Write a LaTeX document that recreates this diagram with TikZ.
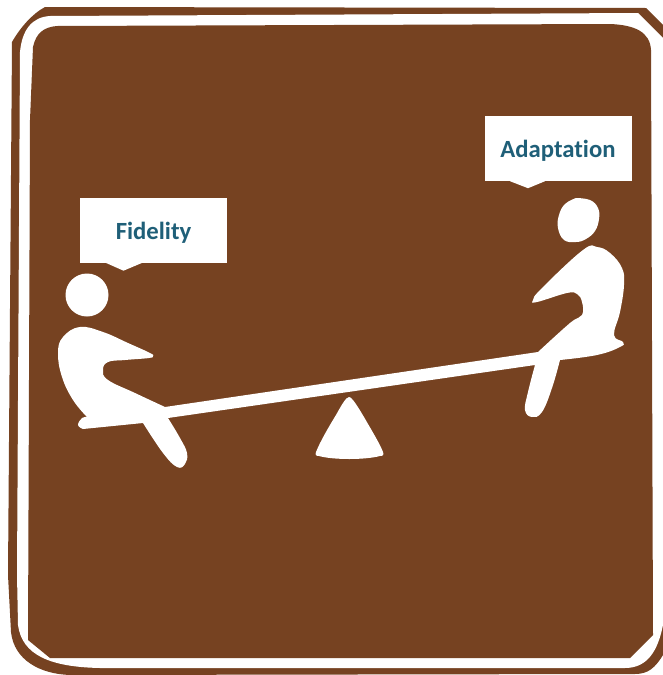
\documentclass[tikz,border=0pt]{standalone}
\usepackage{xcolor}
\usepackage{fontspec}
\setsansfont{Carlito}[Ligatures=CommonOff]
\definecolor{signbrown}{HTML}{764221}
\definecolor{labelteal}{HTML}{1F5F78}

\begin{document}
\begin{tikzpicture}[x=1pt,y=-1pt,
  signshape/.style={fill=white},
  speechbox/.style={fill=white, inner sep=0pt, minimum width=147pt, minimum height=65pt,
    text=labelteal, font=\sffamily\bfseries\fontsize{24.7}{26}\selectfont},
  curve/.style={smooth, tension=0.7}]

\useasboundingbox (0,0) rectangle (663,675);
\fill[white] (0,0) rectangle (663,675);

\fill[signbrown] (12,42) .. controls (20,28) and (32,14) .. (45,7) -- (646,8) -- (663,25) -- (663,655)
  .. controls (655,668) and (648,674) .. (635,674) -- (70,675)
  .. controls (40,674) and (14,660) .. (11,632) -- (8,575) -- cycle;

\fill[white] (20,52) .. controls (22,30) and (32,17) .. (50,16) -- (638,13) -- (663,38) -- (663,625)
  .. controls (658,650) and (648,668) .. (625,668) -- (100,668)
  .. controls (50,667) and (22,655) .. (18,625) -- (17,575) -- cycle;

\fill[signbrown] (33,47) .. controls (36,33) and (44,27) .. (57,26) -- (610,24)
  .. controls (635,25) and (650,32) .. (651,50) -- (653,635) -- (630,658) -- (50,658)
  -- (28,640) -- (30,120) -- cycle;

\node[speechbox] (fidelity) at (153.5,230) {\raisebox{-9pt}[0pt][0pt]{Fidelity}};
\fill[white] ([xshift=-48pt]fidelity.south) -- ([xshift=-30pt,yshift=-8pt]fidelity.south) -- ([xshift=-11pt]fidelity.south) -- cycle;

\node[speechbox] (adaptation) at (558,148.5) {\raisebox{-9pt}[0pt][0pt]{Adaptation}};
\fill[white] ([xshift=-48pt]adaptation.south) -- ([xshift=-30pt,yshift=-7pt]adaptation.south) -- ([xshift=-13pt]adaptation.south) -- cycle;

\fill[signshape] (87,295) circle (21.5);

\fill[signshape] plot[curve] coordinates {(576,198) (590,200) (598,208) (599,219) (595,231) (586,239) (576,242) (564,240) (558,228) (559,215) (565,204) (576,198)} -- cycle;

\fill[signshape]
  plot[curve] coordinates {(87,417) (73,400) (62,377) (58,353) (63,337) (80,327) (103,332) (128,343) (150,353) (153,356) (149,358) (125,360) (108,362) (103,370) (108,380) (135,393) (165,407)}
  -- (538,352)
  -- plot[curve] coordinates {(538,352) (570,323) (582,315) (582,302) (577,294) (567,293) (537,302) (533,300) (542,288) (583,250) (597,247) (610,253) (622,268) (624,285) (620,312) (614,335) (623,342) (620,347) (597,355) (560,360)}
  -- plot[curve] coordinates {(560,360) (552,388) (542,412) (532,417) (525,410) (528,392) (535,365)}
  -- (168,418)
  -- plot[curve] coordinates {(168,418) (180,438) (187,453) (185,464) (177,467) (163,453) (143,423)}
  -- (83,429)
  -- plot[curve] coordinates {(83,429) (78,425) (82,418) (87,417)}
  -- cycle;

\fill[signshape] (349,397) .. controls (352,397) and (358,407) .. (364,417) .. controls (372,431) and (380,444) .. (383,452)
  .. controls (384,455) and (383,456) .. (380,456) .. controls (365,460) and (333,460) .. (319,456)
  .. controls (316,456) and (315,455) .. (316,452) .. controls (320,442) and (328,428) .. (336,415)
  .. controls (341,406) and (346,397) .. (349,397) -- cycle;

\end{tikzpicture}
\end{document}
